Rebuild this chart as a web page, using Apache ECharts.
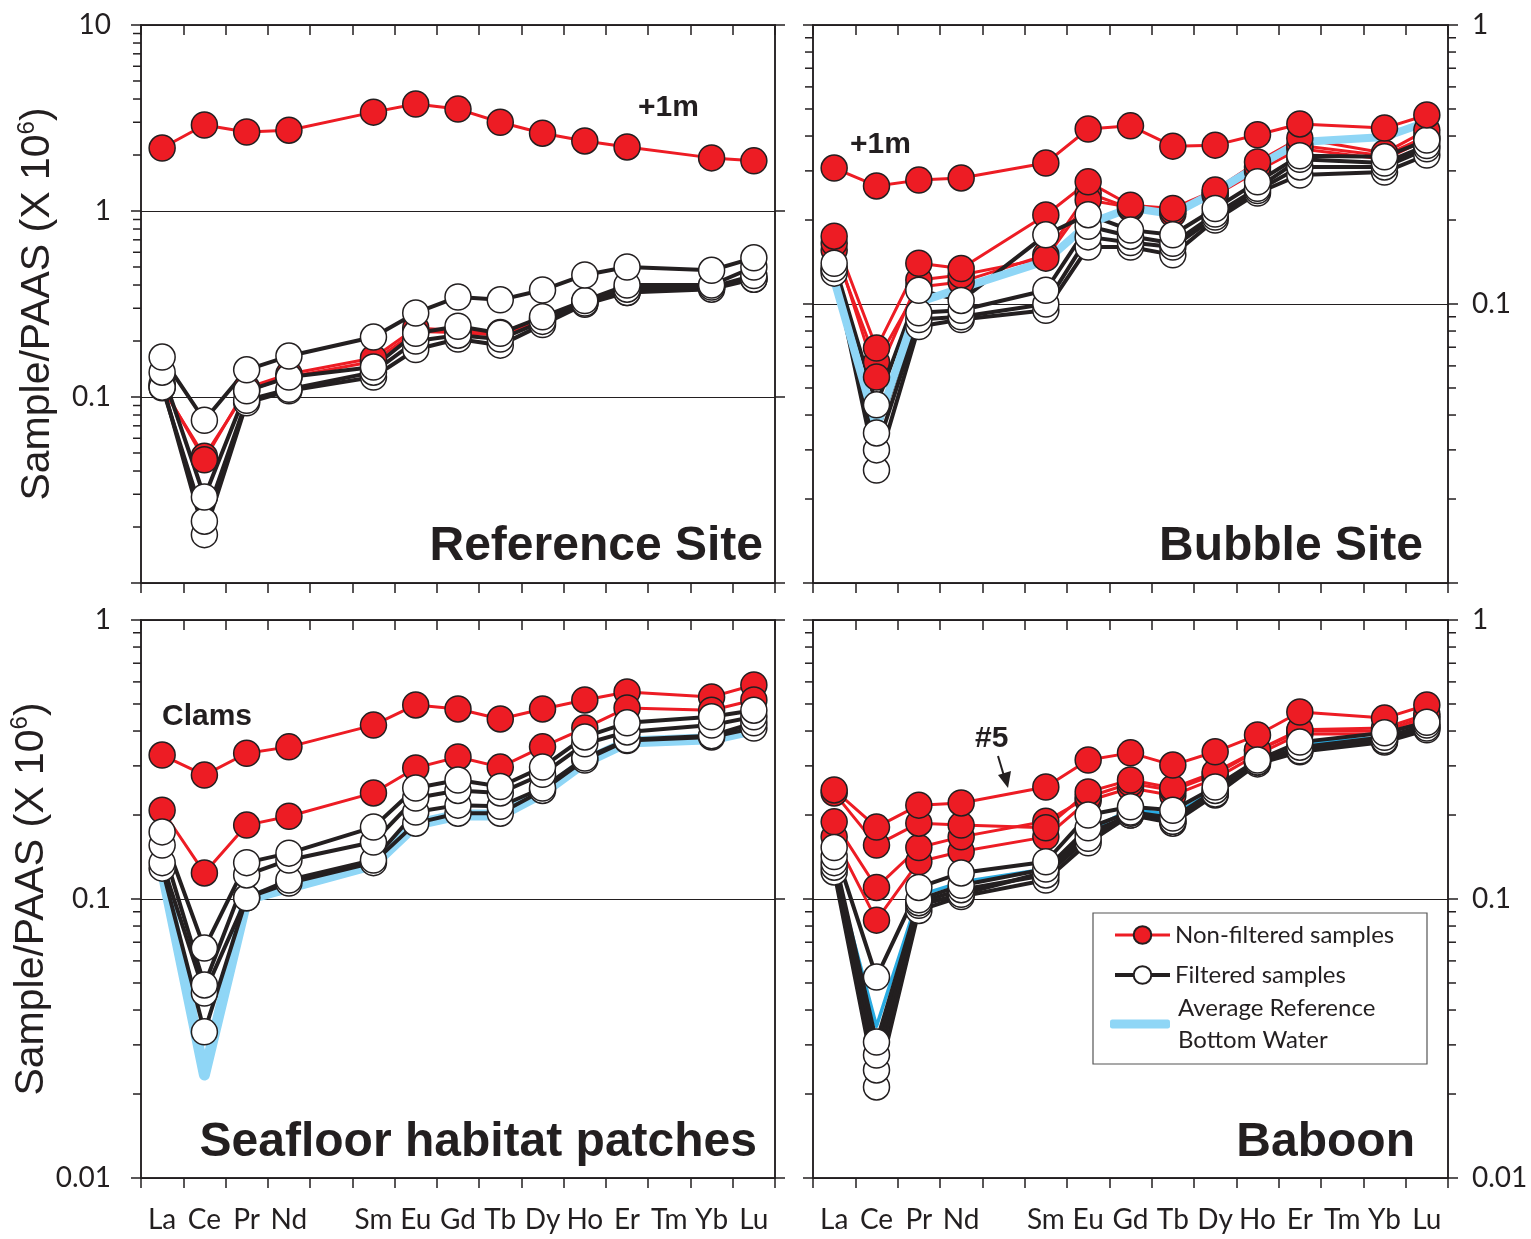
<!DOCTYPE html>
<html><head><meta charset="utf-8">
<script src="https://cdn.jsdelivr.net/npm/echarts@6/dist/echarts.min.js"></script>
<style>html,body{margin:0;padding:0;background:#fff}#c{width:1531px;height:1239px}</style>
</head><body><div id="c"></div>
<script>
// ---- categories / tick labels ----
const elements = ['La','Ce','Pr','Nd','Pm','Sm','Eu','Gd','Tb','Dy','Ho','Er','Tm','Yb','Lu'];
const tickLabels = ['La','Ce','Pr','Nd','','Sm','Eu','Gd','Tb','Dy','Ho','Er','Tm','Yb','Lu'];
const decadeLabels = {'-2':'0.01','-1':'0.1','0':'1','1':'10'};
const minorMultipliers = [2,3,4,5,6,7,8,9];

// ---- Reference Site ----
const refPlus1m = [2.18, 2.9, 2.66, 2.72, null, 3.4, 3.76, 3.53, 3.0, 2.62, 2.38, 2.21, null, 1.93, 1.86];
const refNF1 = [0.115, 0.046, 0.112, 0.133, null, 0.162, 0.235, 0.228, 0.222, 0.265, 0.325, 0.37, null, 0.39, 0.435];
const refNF2 = [0.112, 0.048, 0.108, 0.128, null, 0.155, 0.225, 0.222, 0.215, 0.26, 0.32, 0.365, null, 0.385, 0.43];
const refF1 = [0.164, 0.075, 0.140, 0.166, null, 0.21, 0.283, 0.345, 0.333, 0.376, 0.453, 0.50, null, 0.48, 0.56];
const refF2 = [0.136, 0.029, 0.108, 0.128, null, 0.145, 0.22, 0.24, 0.22, 0.27, 0.33, 0.40, null, 0.40, 0.50];
const refF3 = [0.113, 0.0215, 0.096, 0.110, null, 0.136, 0.20, 0.215, 0.205, 0.255, 0.32, 0.38, null, 0.39, 0.45];
const refF4 = [0.118, 0.0182, 0.093, 0.108, null, 0.128, 0.18, 0.205, 0.19, 0.245, 0.315, 0.365, null, 0.38, 0.43];

// ---- Bubble Site ----
const bubPlus1m = [0.307, 0.265, 0.278, 0.283, null, 0.32, 0.424, 0.435, 0.368, 0.371, 0.404, 0.442, null, 0.427, 0.476];
const bubNF1 = [0.175, 0.0695, 0.140, 0.134, null, 0.2085, 0.274, 0.226, 0.22, 0.256, 0.323, 0.393, null, 0.348, 0.42];
const bubNF2 = [0.165, 0.0547, 0.122, 0.127, null, 0.146, 0.236, 0.222, 0.215, 0.25, 0.31, 0.37, null, 0.34, 0.40];
const bubNF3 = [0.156, 0.062, 0.115, 0.12, null, 0.15, 0.25, 0.22, 0.21, 0.245, 0.30, 0.36, null, 0.33, 0.39];
const bubF1 = [0.14, 0.0435, 0.112, 0.103, null, 0.177, 0.209, 0.184, 0.177, 0.22, 0.274, 0.34, null, 0.337, 0.387];
const bubF2 = [0.134, 0.0345, 0.093, 0.095, null, 0.112, 0.19, 0.175, 0.165, 0.21, 0.26, 0.33, null, 0.32, 0.37];
const bubF3 = [0.129, 0.030, 0.088, 0.090, null, 0.100, 0.174, 0.166, 0.16, 0.205, 0.255, 0.31, null, 0.31, 0.36];
const bubF4 = [0.132, 0.0254, 0.083, 0.088, null, 0.095, 0.16, 0.160, 0.15, 0.20, 0.25, 0.29, null, 0.297, 0.342];
const bubBW = [0.122, 0.036, 0.1016, 0.114, null, 0.1426, 0.194, 0.221, 0.21, 0.252, 0.312, 0.381, null, 0.397, 0.449];

// ---- Seafloor habitat patches ----
const seaClams = [0.328, 0.278, 0.333, 0.351, null, 0.42, 0.496, 0.48, 0.442, 0.48, 0.517, 0.552, null, 0.53, 0.585];
const seaNF = [0.208, 0.124, 0.184, 0.198, null, 0.24, 0.295, 0.323, 0.297, 0.351, 0.41, 0.484, null, 0.475, 0.517];
const seaF1 = [0.174, 0.0667, 0.135, 0.146, null, 0.181, 0.25, 0.267, 0.253, 0.297, 0.381, 0.428, null, 0.45, 0.475];
const seaF2 = [0.156, 0.0492, 0.122, 0.138, null, 0.16, 0.23, 0.245, 0.24, 0.28, 0.36, 0.397, null, 0.42, 0.45];
const seaF3 = [0.135, 0.046, 0.101, 0.117, null, 0.138, 0.205, 0.217, 0.215, 0.25, 0.32, 0.372, null, 0.385, 0.428];
const seaF4 = [0.129, 0.0334, 0.101, 0.114, null, 0.135, 0.187, 0.203, 0.203, 0.245, 0.315, 0.37, null, 0.381, 0.41];
const seaBW = [0.128, 0.0234, 0.100, 0.110, null, 0.133, 0.185, 0.200, 0.200, 0.24, 0.31, 0.365, null, 0.375, 0.405];

// ---- Baboon ----
const babNF1 = [0.246, 0.181, 0.217, 0.221, null, 0.252, 0.315, 0.334, 0.302, 0.337, 0.387, 0.468, null, 0.445, 0.496];
const babNF2 = [0.240, 0.156, 0.187, 0.184, null, 0.18, 0.242, 0.267, 0.25, 0.285, 0.342, 0.404, null, 0.41, 0.46];
const babNF3 = [0.189, 0.110, 0.153, 0.167, null, 0.19, 0.232, 0.26, 0.245, 0.28, 0.34, 0.40, null, 0.40, 0.45];
const babNF4 = [0.167, 0.084, 0.136, 0.148, null, 0.167, 0.225, 0.25, 0.235, 0.27, 0.33, 0.39, null, 0.39, 0.44];
const babF1 = [0.153, 0.0525, 0.11, 0.124, null, 0.136, 0.2, 0.214, 0.208, 0.252, 0.315, 0.365, null, 0.394, 0.43];
const babF2 = [0.142, 0.0307, 0.0994, 0.112, null, 0.128, 0.18, 0.205, 0.195, 0.245, 0.31, 0.35, null, 0.38, 0.42];
const babF3 = [0.130, 0.0244, 0.095, 0.104, null, 0.125, 0.172, 0.2, 0.19, 0.24, 0.31, 0.345, null, 0.37, 0.415];
const babF4 = [0.125, 0.0212, 0.091, 0.102, null, 0.117, 0.159, 0.2, 0.187, 0.236, 0.305, 0.337, null, 0.365, 0.404];
const babF5 = [0.135, 0.0276, 0.097, 0.108, null, 0.122, 0.165, 0.203, 0.19, 0.238, 0.31, 0.34, null, 0.37, 0.41];
const babBW = [0.13, 0.035, 0.103, 0.115, null, 0.128, 0.175, 0.21, 0.2, 0.245, 0.31, 0.36, null, 0.38, 0.41];

const NF = 'Non-filtered samples', FI = 'Filtered samples', BW = 'Average Reference\nBottom Water';
const INK = '#231f20', RED = '#ed1c24', LIGHTBLUE = '#8fd6f6', CYAN = '#29abe2';

const chart = echarts.init(document.getElementById('c'), null, {renderer: 'canvas'});

const grids = [
  {left: 141, top: 25, width: 634, height: 558},
  {left: 813, top: 25, width: 635, height: 558},
  {left: 141, top: 620, width: 634, height: 558},
  {left: 813, top: 620, width: 635, height: 558}
];
const yRanges = [[0.01, 10], [0.01, 1], [0.01, 1], [0.01, 1]];
const labelSide = ['left', 'right', 'left', 'right'];
const showMinLabel = [false, false, true, true];

const xAxis = [], yAxis = [];
grids.forEach((g, i) => {
  const base = {
    type: 'category', gridIndex: i, data: elements, boundaryGap: true,
    axisLine: {lineStyle: {color: INK, width: 1.5}},
    axisTick: {show: true, interval: 0, length: 10, lineStyle: {color: INK, width: 1.5}},
    splitLine: {show: false}
  };
  xAxis.push(Object.assign({}, base, {
    position: 'bottom',
    axisTick: Object.assign({}, base.axisTick, {inside: false}),
    axisLabel: {show: i >= 2, interval: 0, formatter: (v, idx) => tickLabels[idx],
      fontFamily: 'Lato', fontSize: 28, color: INK, margin: 28}
  }));
  xAxis.push(Object.assign({}, base, {
    position: 'top',
    axisTick: Object.assign({}, base.axisTick, {inside: true}),
    axisLabel: {show: false}
  }));
  ['left', 'right'].forEach(side => {
    const isLabel = side === labelSide[i];
    const ax = {
      type: 'log', logBase: 10, gridIndex: i, position: side,
      min: yRanges[i][0], max: yRanges[i][1],
      axisLine: {show: true, lineStyle: {color: INK, width: 1.5}},
      axisTick: {show: true, inside: false, length: 10, lineStyle: {color: INK, width: 1.5}},
      axisLabel: {
        show: isLabel, margin: side === 'left' ? 30 : 24,
        fontFamily: 'Lato', fontSize: 28, color: INK,
        formatter: v => {
          const k = Math.round(Math.log10(v));
          if (k === -2 && !showMinLabel[i]) return '';
          return decadeLabels[String(k)];
        }
      },
      splitLine: {show: side === 'left', lineStyle: {color: INK, width: 1.2}}
    };
    if (side === 'left' && (i === 0 || i === 2)) {
      Object.assign(ax, {
        name: 'Sample/PAAS (X 10{s|6})', nameLocation: 'middle', nameRotate: 90, nameGap: 80,
        nameTextStyle: {fontFamily: 'Liberation Sans', fontSize: 41, color: INK,
          rich: {s: {fontFamily: 'Liberation Sans', fontSize: 24, color: INK, padding: [0, 0, 22, 0]}}}
      });
    }
    yAxis.push(ax);
  });
});

function mk(kind, name, data, gi) {
  const s = {
    type: 'line', name: name, data: data, xAxisIndex: gi * 2, yAxisIndex: gi * 2,
    connectNulls: true, silent: true, animation: false, emphasis: {disabled: true}
  };
  if (kind === 'red') {
    Object.assign(s, {symbol: 'circle', symbolSize: 26,
      itemStyle: {color: RED, borderColor: INK, borderWidth: 1.5},
      lineStyle: {color: RED, width: 3}});
  } else if (kind === 'white') {
    Object.assign(s, {symbol: 'circle', symbolSize: 26,
      itemStyle: {color: '#ffffff', borderColor: INK, borderWidth: 1.5},
      lineStyle: {color: INK, width: 4}});
  } else if (kind === 'blue') {
    Object.assign(s, {symbol: 'none', itemStyle: {color: LIGHTBLUE},
      lineStyle: {color: LIGHTBLUE, width: 8, cap: 'round', join: 'round'}});
  } else if (kind === 'blueWide') {
    Object.assign(s, {symbol: 'none', itemStyle: {color: LIGHTBLUE},
      lineStyle: {color: LIGHTBLUE, width: 11, cap: 'round', join: 'round'}});
  } else if (kind === 'cyan') {
    Object.assign(s, {symbol: 'none', itemStyle: {color: CYAN},
      lineStyle: {color: CYAN, width: 3.5, join: 'round'}});
  }
  return s;
}

function minorTickSeries(gi, bothSides) {
  const data = [];
  const lo = Math.round(Math.log10(yRanges[gi][0])), hi = Math.round(Math.log10(yRanges[gi][1]));
  for (let k = lo; k < hi; k++) minorMultipliers.forEach(m => data.push([0, m * Math.pow(10, k)]));
  return {
    type: 'custom', xAxisIndex: gi * 2, yAxisIndex: gi * 2, silent: true, animation: false, clip: false,
    data: data,
    renderItem: (params, api) => {
      const y = api.coord([0, api.value(1)])[1];
      const cs = params.coordSys;
      const kids = [{type: 'line', shape: {x1: cs.x - 8, y1: y, x2: cs.x, y2: y}, style: {stroke: INK, lineWidth: 1.5}}];
      if (bothSides) kids.push({type: 'line', shape: {x1: cs.x + cs.width, y1: y, x2: cs.x + cs.width + 8, y2: y}, style: {stroke: INK, lineWidth: 1.5}});
      return {type: 'group', children: kids};
    }
  };
}

const series = [
  mk('red', NF, bubNF3, 1), mk('red', NF, bubNF2, 1), mk('red', NF, bubNF1, 1),
  mk('white', FI, bubF4, 1), mk('white', FI, bubF3, 1), mk('white', FI, bubF2, 1), mk('white', FI, bubF1, 1),
  mk('blue', BW, bubBW, 1),
  mk('red', NF, bubPlus1m, 1),
  mk('red', NF, refNF2, 0), mk('red', NF, refNF1, 0),
  mk('white', FI, refF4, 0), mk('white', FI, refF3, 0), mk('white', FI, refF2, 0), mk('white', FI, refF1, 0),
  mk('red', NF, refPlus1m, 0),
  mk('blueWide', BW, seaBW, 2),
  mk('red', NF, seaClams, 2), mk('red', NF, seaNF, 2),
  mk('white', FI, seaF4, 2), mk('white', FI, seaF3, 2), mk('white', FI, seaF2, 2), mk('white', FI, seaF1, 2),
  mk('red', NF, babNF4, 3), mk('red', NF, babNF3, 3), mk('red', NF, babNF2, 3), mk('red', NF, babNF1, 3),
  mk('cyan', BW, babBW, 3),
  mk('white', FI, babF4, 3), mk('white', FI, babF3, 3), mk('white', FI, babF5, 3), mk('white', FI, babF2, 3), mk('white', FI, babF1, 3),
  minorTickSeries(0, false), minorTickSeries(1, true), minorTickSeries(2, false), minorTickSeries(3, true)
];

const titleFont = 'bold 48px "Liberation Sans", Arial, sans-serif';
const noteFont = 'bold 30px "Liberation Sans", Arial, sans-serif';
const legendText = {fontFamily: 'Lato', fontSize: 24, color: INK};
const option = {
  animation: false,
  backgroundColor: '#ffffff',
  grid: grids.map(g => Object.assign({show: true, borderColor: INK, borderWidth: 1.5, backgroundColor: 'transparent'}, g)),
  xAxis: xAxis,
  yAxis: yAxis,
  legend: [
    {data: [NF, FI], orient: 'vertical', left: 1113, top: 921, itemWidth: 55, itemHeight: 22, itemGap: 12,
      padding: 0, selectedMode: false, z: 6,
      lineStyle: {width: 'inherit'},
      textStyle: Object.assign({lineHeight: 28}, legendText)},
    {data: [{name: BW, icon: 'roundRect', itemStyle: {color: LIGHTBLUE}}], orient: 'vertical', left: 1110, top: 992,
      itemWidth: 60, itemHeight: 9, padding: 0, selectedMode: false, z: 6,
      textStyle: Object.assign({lineHeight: 32, padding: [0, 0, 0, 3]}, legendText)}
  ],
  graphic: [
    {type: 'rect', z: 5, shape: {x: 1093, y: 913, width: 334, height: 151}, style: {fill: '#ffffff', stroke: '#555555', lineWidth: 1.2}},
    {type: 'text', z: 10, x: 763, y: 547, style: {text: 'Reference Site', font: titleFont, fill: INK, textAlign: 'right', textVerticalAlign: 'middle'}},
    {type: 'text', z: 10, x: 1423, y: 547, style: {text: 'Bubble Site', font: titleFont, fill: INK, textAlign: 'right', textVerticalAlign: 'middle'}},
    {type: 'text', z: 10, x: 757, y: 1143, style: {text: 'Seafloor habitat patches', font: titleFont, fill: INK, textAlign: 'right', textVerticalAlign: 'middle'}},
    {type: 'text', z: 10, x: 1415, y: 1143, style: {text: 'Baboon', font: titleFont, fill: INK, textAlign: 'right', textVerticalAlign: 'middle'}},
    {type: 'text', z: 10, x: 638, y: 108, style: {text: '+1m', font: noteFont, fill: INK, textAlign: 'left', textVerticalAlign: 'middle'}},
    {type: 'text', z: 10, x: 850, y: 145, style: {text: '+1m', font: noteFont, fill: INK, textAlign: 'left', textVerticalAlign: 'middle'}},
    {type: 'text', z: 10, x: 162, y: 717, style: {text: 'Clams', font: noteFont, fill: INK, textAlign: 'left', textVerticalAlign: 'middle'}},
    {type: 'text', z: 10, x: 975, y: 739, style: {text: '#5', font: noteFont, fill: INK, textAlign: 'left', textVerticalAlign: 'middle'}},
    {type: 'line', z: 10, shape: {x1: 998, y1: 756, x2: 1004, y2: 776}, style: {stroke: INK, lineWidth: 2}},
    {type: 'polygon', z: 10, shape: {points: [[998, 775], [1011, 771], [1008, 788]]}, style: {fill: INK}}
  ],
  series: series
};
chart.setOption(option);
</script></body></html>
